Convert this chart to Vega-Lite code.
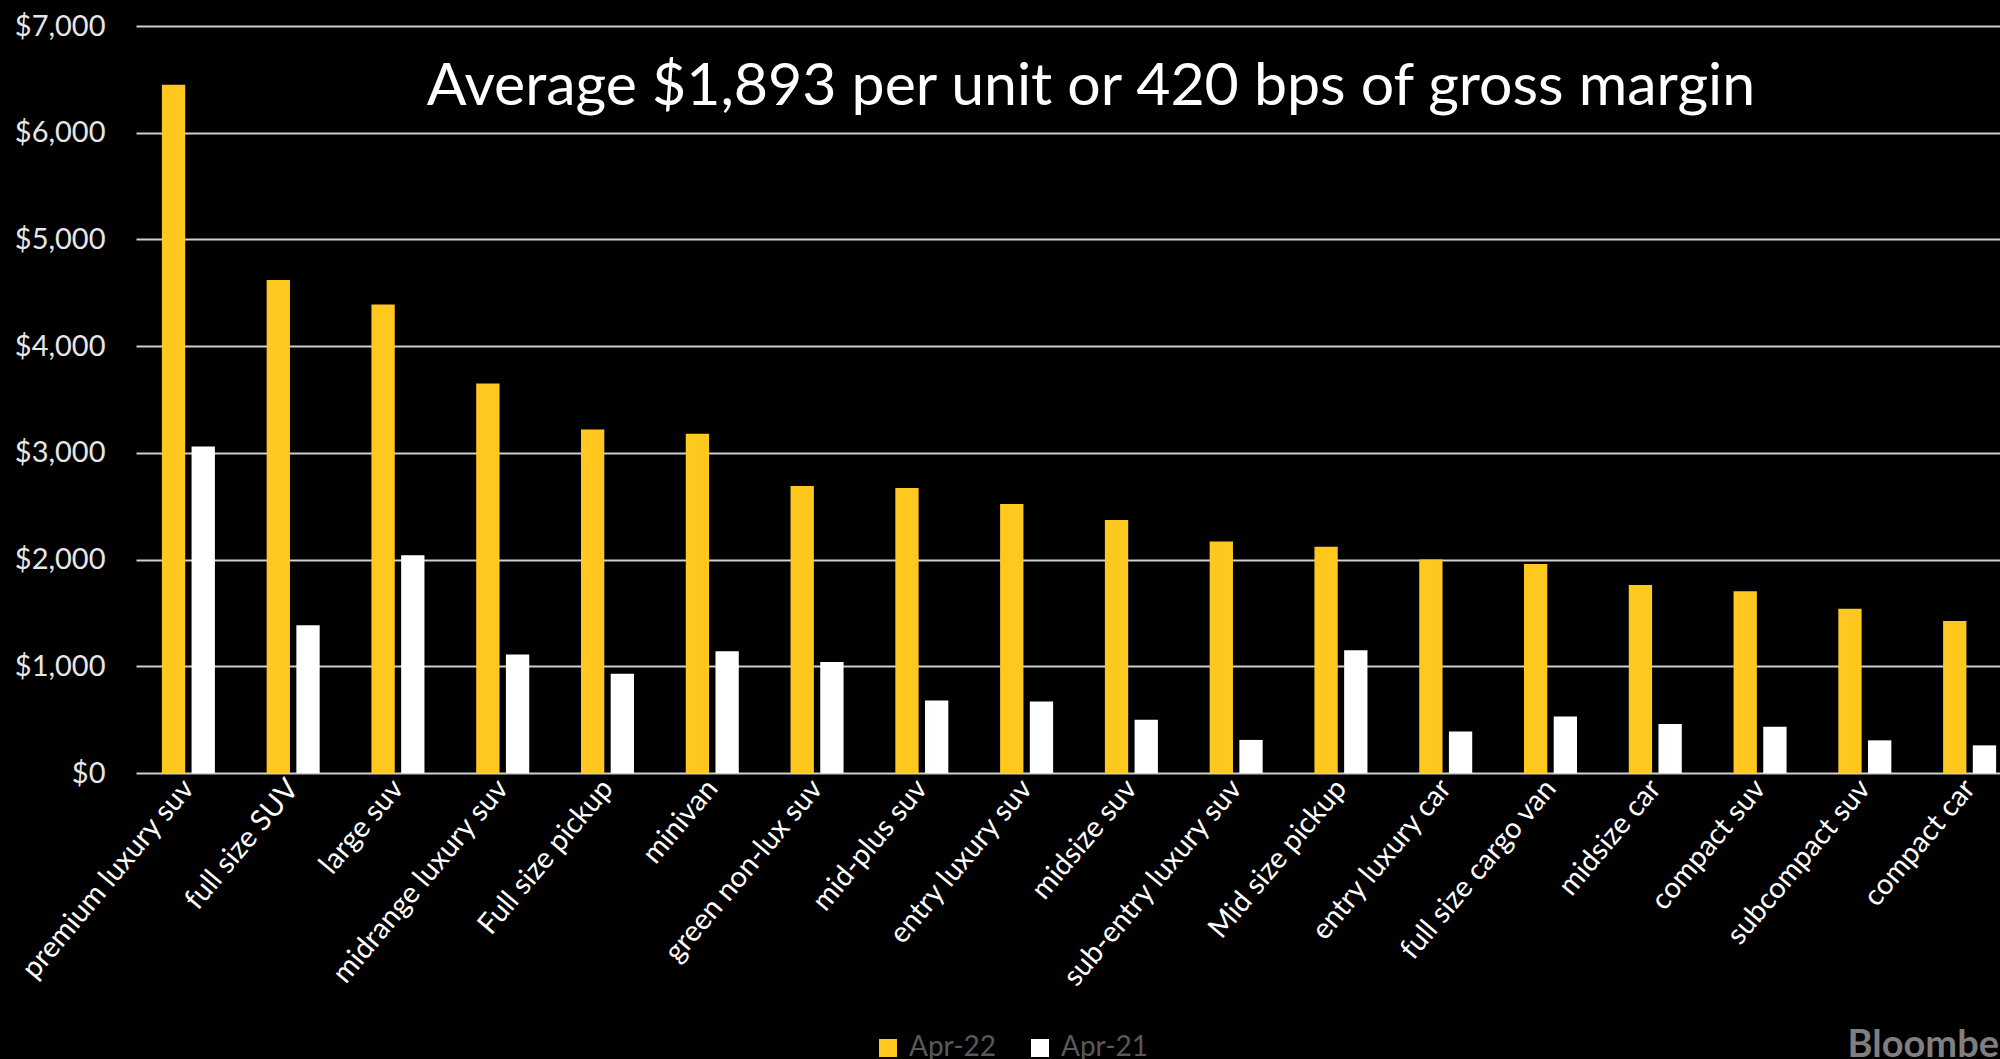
{
  "$schema": "https://vega.github.io/schema/vega-lite/v6.json",
  "autosize": {"type": "none"},
  "width": 1886,
  "height": 747,
  "padding": {"left": 136, "top": 26, "right": -22, "bottom": 286},
  "background": "#000000",
  "title": {
    "text": "Average $1,893 per unit or 420 bps of gross margin",
    "orient": "top",
    "anchor": "middle",
    "frame": "group",
    "font": "Lato",
    "fontSize": 59,
    "fontWeight": "normal",
    "color": "#FFFFFF",
    "baseline": "alphabetic",
    "offset": 0,
    "dx": 12,
    "dy": 152
  },
  "data": {
    "values": [
      {"segment": "premium luxury suv", "period": "Apr-22", "value": 6450},
      {"segment": "premium luxury suv", "period": "Apr-21", "value": 3060},
      {"segment": "full size SUV", "period": "Apr-22", "value": 4620},
      {"segment": "full size SUV", "period": "Apr-21", "value": 1385},
      {"segment": "large suv", "period": "Apr-22", "value": 4390},
      {"segment": "large suv", "period": "Apr-21", "value": 2040},
      {"segment": "midrange luxury suv", "period": "Apr-22", "value": 3650},
      {"segment": "midrange luxury suv", "period": "Apr-21", "value": 1110},
      {"segment": "Full size pickup", "period": "Apr-22", "value": 3220},
      {"segment": "Full size pickup", "period": "Apr-21", "value": 930},
      {"segment": "minivan", "period": "Apr-22", "value": 3180},
      {"segment": "minivan", "period": "Apr-21", "value": 1140},
      {"segment": "green non-lux suv", "period": "Apr-22", "value": 2690},
      {"segment": "green non-lux suv", "period": "Apr-21", "value": 1040},
      {"segment": "mid-plus suv", "period": "Apr-22", "value": 2670},
      {"segment": "mid-plus suv", "period": "Apr-21", "value": 680},
      {"segment": "entry luxury suv", "period": "Apr-22", "value": 2520},
      {"segment": "entry luxury suv", "period": "Apr-21", "value": 670},
      {"segment": "midsize suv", "period": "Apr-22", "value": 2370},
      {"segment": "midsize suv", "period": "Apr-21", "value": 500},
      {"segment": "sub-entry luxury suv", "period": "Apr-22", "value": 2170},
      {"segment": "sub-entry luxury suv", "period": "Apr-21", "value": 310},
      {"segment": "Mid size pickup", "period": "Apr-22", "value": 2120},
      {"segment": "Mid size pickup", "period": "Apr-21", "value": 1150},
      {"segment": "entry luxury car", "period": "Apr-22", "value": 2000},
      {"segment": "entry luxury car", "period": "Apr-21", "value": 390},
      {"segment": "full size cargo van", "period": "Apr-22", "value": 1958},
      {"segment": "full size cargo van", "period": "Apr-21", "value": 530},
      {"segment": "midsize car", "period": "Apr-22", "value": 1762},
      {"segment": "midsize car", "period": "Apr-21", "value": 459},
      {"segment": "compact suv", "period": "Apr-22", "value": 1702},
      {"segment": "compact suv", "period": "Apr-21", "value": 434},
      {"segment": "subcompact suv", "period": "Apr-22", "value": 1540},
      {"segment": "subcompact suv", "period": "Apr-21", "value": 306},
      {"segment": "compact car", "period": "Apr-22", "value": 1424},
      {"segment": "compact car", "period": "Apr-21", "value": 259}
    ]
  },
  "mark": {"type": "bar"},
  "encoding": {
    "x": {
      "field": "segment",
      "type": "nominal",
      "sort": null,
      "scale": {"paddingInner": 0.494, "paddingOuter": 0.247},
      "axis": {
        "title": "Bloomberg",
        "titleX": 1711,
        "titleY": 283,
        "titleAlign": "left",
        "titleBaseline": "alphabetic",
        "titleAnchor": null,
        "titleFont": "Lato",
        "titleFontSize": 38,
        "titleFontWeight": "bold",
        "titleColor": "#7F7F7F",
        "labelAngle": -50,
        "labelAlign": "right",
        "labelBaseline": "middle",
        "labelPadding": 10,
        "labelFont": "Lato",
        "labelFontSize": 29,
        "labelColor": "#FFFFFF",
        "labelLimit": 500,
        "ticks": false,
        "domain": false,
        "grid": false
      }
    },
    "xOffset": {
      "field": "period",
      "type": "nominal",
      "sort": ["Apr-22", "Apr-21"],
      "scale": {"paddingInner": 0.215, "paddingOuter": 0}
    },
    "y": {
      "field": "value",
      "type": "quantitative",
      "scale": {"domain": [0, 7000], "nice": false},
      "axis": {
        "title": null,
        "values": [0, 1000, 2000, 3000, 4000, 5000, 6000, 7000],
        "format": "$,.0f",
        "labelFont": "Lato",
        "labelFontSize": 29,
        "labelColor": "#E6E6E6",
        "labelPadding": 31,
        "ticks": false,
        "domain": false,
        "grid": true,
        "gridColor": "#CFCFCF",
        "gridWidth": 2
      }
    },
    "color": {
      "field": "period",
      "type": "nominal",
      "scale": {"domain": ["Apr-22", "Apr-21"], "range": ["#FFC81E", "#FFFFFF"]},
      "legend": {
        "title": null,
        "orient": "none",
        "direction": "horizontal",
        "legendX": 738,
        "legendY": 1008,
        "symbolType": "square",
        "symbolSize": 324,
        "symbolStrokeWidth": 0,
        "symbolOpacity": 1,
        "labelFont": "Lato",
        "labelFontSize": 28,
        "labelColor": "#595959",
        "labelOffset": 7,
        "columnPadding": 29
      }
    }
  },
  "config": {
    "view": {"stroke": null}
  }
}
